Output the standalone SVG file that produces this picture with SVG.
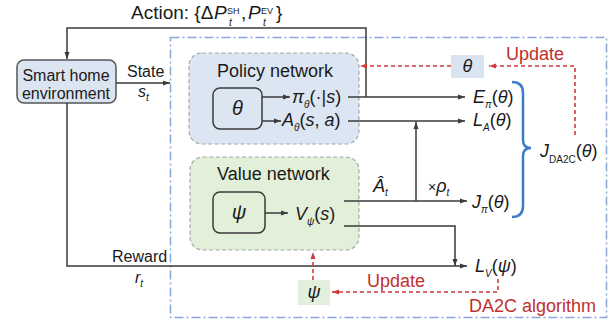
<svg xmlns="http://www.w3.org/2000/svg" width="611" height="320" viewBox="0 0 611 320">
<defs>
<style>
text{font-family:"Liberation Sans",Arial,sans-serif;fill:#1a1a1a}
.i{font-style:italic}
.red{fill:#c0302e}
.ln{fill:none;stroke:#3a3a3a;stroke-width:1.5}
.rd{fill:none;stroke:#d0393a;stroke-width:1.6;stroke-dasharray:4 3}
.net{stroke:#a8a8a8;stroke-width:1.2;stroke-dasharray:4 2.5}
.inner{fill:none;stroke:#3a3a3a;stroke-width:1.5}
</style>
<marker id="ah" markerUnits="userSpaceOnUse" markerWidth="7" markerHeight="6" refX="7" refY="3" orient="auto"><path d="M0,0.5 L7,3 L0,5.5 z" fill="#3a3a3a"/></marker>
<marker id="rh" markerUnits="userSpaceOnUse" markerWidth="7" markerHeight="6" refX="7" refY="3" orient="auto"><path d="M0,0.5 L7,3 L0,5.5 z" fill="#d0393a"/></marker>
</defs>
<rect width="611" height="320" fill="#ffffff"/>

<g id="da2c-frame">
<rect x="170.5" y="37.5" width="436" height="280" fill="none" stroke="#8aa8d4" stroke-width="1.5" stroke-dasharray="9 3 2 3"/>
<text class="red" x="469" y="312" font-size="18">DA2C algorithm</text>
</g>

<g id="smart-home">
<rect x="17" y="60" width="99" height="43" rx="7" fill="#dbe5f1" stroke="#555" stroke-width="1.5"/>
<text x="66" y="81" font-size="16" text-anchor="middle">Smart home</text>
<text x="66" y="99" font-size="16" text-anchor="middle">environment</text>
</g>

<g id="policy-network">
<rect x="189" y="53" width="170" height="91" rx="13" fill="#dce6f2" class="net"/>
<text x="217" y="77" font-size="18">Policy network</text>
<rect x="213" y="88" width="49" height="41" rx="7" class="inner"/>
<text class="i" x="237.5" y="115" font-size="20" text-anchor="middle">θ</text>
<text x="292" y="103" font-size="18"><tspan class="i">π</tspan><tspan font-size="10" dy="5" class="i">θ</tspan><tspan dy="-5">(·|</tspan><tspan class="i">s</tspan>)</text>
<text x="282" y="126" font-size="18"><tspan class="i">A</tspan><tspan font-size="10" dy="5" class="i">θ</tspan><tspan dy="-5">(</tspan><tspan class="i">s</tspan>, <tspan class="i">a</tspan>)</text>
</g>

<g id="value-network">
<rect x="190" y="157" width="169" height="93" rx="13" fill="#e2efd9" class="net"/>
<text x="217" y="180" font-size="18">Value network</text>
<rect x="213" y="192" width="52" height="41" rx="7" class="inner"/>
<text class="i" x="239" y="219" font-size="20" text-anchor="middle">ψ</text>
<text x="295" y="220" font-size="18"><tspan class="i">V</tspan><tspan font-size="10" dy="5" class="i">ψ</tspan><tspan dy="-5">(</tspan><tspan class="i">s</tspan>)</text>
</g>

<g id="theta-param">
<rect x="451" y="55" width="33" height="23" fill="#dae3f0"/>
<text class="i" x="467.5" y="72" font-size="18" text-anchor="middle">θ</text>
</g>

<g id="psi-param">
<rect x="298" y="280" width="32" height="25" fill="#e2efda"/>
<text class="i" x="314" y="298" font-size="18" text-anchor="middle">ψ</text>
</g>

<g id="outputs">
<text x="473" y="103" font-size="18"><tspan class="i">E</tspan><tspan font-size="10" dy="5" class="i">π</tspan><tspan dy="-5">(</tspan><tspan class="i">θ</tspan>)</text>
<text x="473" y="126" font-size="18"><tspan class="i">L</tspan><tspan font-size="10" dy="5" class="i">A</tspan><tspan dy="-5">(</tspan><tspan class="i">θ</tspan>)</text>
<text x="472" y="208" font-size="18"><tspan class="i">J</tspan><tspan font-size="10" dy="5" class="i">π</tspan><tspan dy="-5">(</tspan><tspan class="i">θ</tspan>)</text>
<text x="475" y="272" font-size="18"><tspan class="i">L</tspan><tspan font-size="10" dy="5" class="i">V</tspan><tspan dy="-5">(</tspan><tspan class="i">ψ</tspan>)</text>
<text x="540" y="157" font-size="18"><tspan class="i">J</tspan><tspan font-size="10" dy="6">DA2C</tspan><tspan dy="-6">(</tspan><tspan class="i">θ</tspan>)</text>
<path d="M512,82 Q523,82 523,93 L523,140 Q523,148 531,148 Q523,148 523,156 L523,206 Q523,217 512,217" fill="none" stroke="#3d7cc9" stroke-width="2.5"/>
</g>

<g id="connectors">
<path class="ln" d="M366,97 L366,28 L67,28 L67,59" marker-end="url(#ah)"/>
<path class="ln" d="M116,83 L170,83" marker-end="url(#ah)"/>
<path class="ln" d="M67,103 L67,266 L467,266" marker-end="url(#ah)"/>
<path class="ln" d="M262,97 L290,97" marker-end="url(#ah)"/>
<path class="ln" d="M262,121 L281,121" marker-end="url(#ah)"/>
<path class="ln" d="M265,213 L288,213" marker-end="url(#ah)"/>
<path class="ln" d="M348,97 L465,97" marker-end="url(#ah)"/>
<path class="ln" d="M348,121 L465,121" marker-end="url(#ah)"/>
<path class="ln" d="M344,201 L467,201" marker-end="url(#ah)"/>
<path class="ln" d="M416,201 L416,122" marker-end="url(#ah)"/>
<path class="ln" d="M344,226 L455,226 L455,266" marker-end="url(#ah)"/>
<path class="rd" d="M575,135 L575,66 L489,66" marker-end="url(#rh)"/>
<path class="rd" d="M451,66 L360,66" marker-end="url(#rh)"/>
<path class="rd" d="M313,280 L313,252" marker-end="url(#rh)"/>
<path class="rd" d="M498,279 L498,292 L332,292" marker-end="url(#rh)"/>
</g>

<g id="labels">
<text font-size="19"><tspan x="131" y="19">Action: {Δ</tspan><tspan class="i" x="214" y="19">P</tspan><tspan font-size="9" x="227" y="14">SH</tspan><tspan class="i" font-size="10" x="229" y="26">t</tspan><tspan x="241" y="19">,</tspan><tspan class="i" x="248" y="19">P</tspan><tspan font-size="9" x="261" y="14">EV</tspan><tspan class="i" font-size="10" x="263" y="26">t</tspan><tspan x="276" y="19">}</tspan></text>
<text x="127" y="77" font-size="16">State</text>
<text x="138" y="97" font-size="16"><tspan class="i">s</tspan><tspan class="i" font-size="10" dy="4">t</tspan></text>
<text x="112" y="262" font-size="16">Reward</text>
<text x="135" y="283" font-size="16"><tspan class="i">r</tspan><tspan class="i" font-size="10" dy="4">t</tspan></text>
<text x="373" y="192" font-size="18"><tspan class="i">Â</tspan><tspan class="i" font-size="10" dy="4">t</tspan></text>
<text x="428" y="192" font-size="18"><tspan font-size="14">×</tspan><tspan class="i">ρ</tspan><tspan class="i" font-size="10" dy="4">t</tspan></text>
<text class="red" x="506" y="60" font-size="18">Update</text>
<text class="red" x="367" y="287" font-size="18">Update</text>
</g>
</svg>
